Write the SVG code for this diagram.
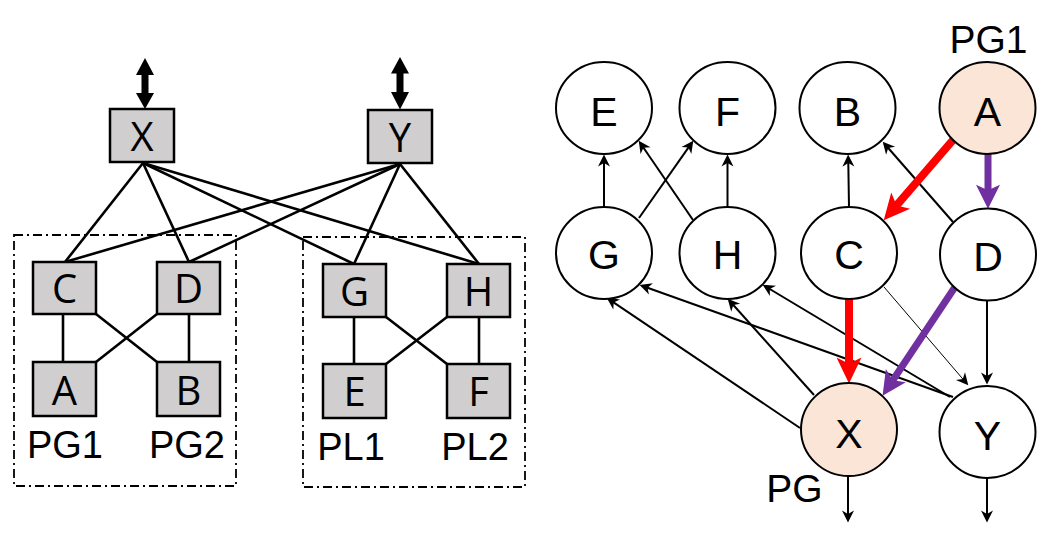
<svg xmlns="http://www.w3.org/2000/svg" width="1058" height="538" viewBox="0 0 1058 538">
<defs>
<style>
.box{fill:#d0cece;stroke:#000;stroke-width:2.5}
.bt{font-family:"Open Sans","Liberation Sans",sans-serif;font-size:40px;text-anchor:middle;fill:#000}
.lbl{font-family:"Liberation Sans",Arial,sans-serif;font-size:38px;text-anchor:middle;fill:#000}
.rl{font-family:"Liberation Sans",Arial,sans-serif;font-size:39px;text-anchor:middle;fill:#000}
.ct{font-family:"Liberation Sans",Arial,sans-serif;font-size:41px;text-anchor:middle;fill:#000}
.grp{fill:none;stroke:#000;stroke-width:1.8;stroke-dasharray:9 4 2 4}
.ln{stroke:#000;stroke-width:2.6;fill:none}
.cir{fill:#fff;stroke:#000;stroke-width:2}
.pk{fill:#fbe5d6}
.ar{stroke:#000;stroke-width:2;fill:none;marker-end:url(#mb)}
.thin{stroke:#000;stroke-width:1;fill:none;marker-end:url(#mb)}
.red{stroke:#ff0000;stroke-width:8;fill:none;marker-end:url(#mr)}
.pur{stroke:#7030a0;stroke-width:7;fill:none;marker-end:url(#mp)}
</style>
<marker id="mb" markerUnits="userSpaceOnUse" markerWidth="12" markerHeight="12" refX="8" refY="5" orient="auto" viewBox="0 0 10 10" overflow="visible">
<path d="M0,0 L10,5 L0,10 L3,5 z" fill="#000"/>
</marker>
<marker id="mr" markerUnits="userSpaceOnUse" markerWidth="26" markerHeight="26" refX="14" refY="12" orient="auto" viewBox="0 0 25 24" overflow="visible">
<path d="M0,0 L25,12 L0,24 L6,12 z" fill="#ff0000"/>
</marker>
<marker id="mp" markerUnits="userSpaceOnUse" markerWidth="24" markerHeight="24" refX="13" refY="11" orient="auto" viewBox="0 0 22 22" overflow="visible">
<path d="M0,0 L22,11 L0,22 L5,11 z" fill="#7030a0"/>
</marker>
</defs>
<rect width="1058" height="538" fill="#fff"/>

<!-- LEFT: physical topology -->
<g id="groups">
<rect class="grp" x="14" y="235" width="222" height="251"/>
<rect class="grp" x="303" y="237" width="222" height="250"/>
</g>
<g id="left-connectors">
<path d="M145,58 L154,75 L148.5,75 L148.5,93 L154,93 L145,109 L136,93 L141.5,93 L141.5,75 L136,75 Z" fill="#000"/>
<path d="M400,57 L409,73.5 L403.5,73.5 L403.5,92 L409,92 L400,109.5 L391,92 L396.5,92 L396.5,73.5 L391,73.5 Z" fill="#000"/>
<line class="ln" x1="143" y1="163" x2="65" y2="262"/>
<line class="ln" x1="143" y1="163" x2="189" y2="262"/>
<line class="ln" x1="143" y1="163" x2="354" y2="264"/>
<line class="ln" x1="143" y1="163" x2="479" y2="264"/>
<line class="ln" x1="400" y1="164" x2="65" y2="262"/>
<line class="ln" x1="400" y1="164" x2="189" y2="262"/>
<line class="ln" x1="400" y1="164" x2="354" y2="264"/>
<line class="ln" x1="400" y1="164" x2="479" y2="264"/>
<line class="ln" x1="63" y1="314" x2="63" y2="362"/>
<line class="ln" x1="189" y1="314" x2="189" y2="362"/>
<line class="ln" x1="96" y1="314" x2="157" y2="362"/>
<line class="ln" x1="157" y1="314" x2="96" y2="362"/>
<line class="ln" x1="354" y1="317" x2="354" y2="364"/>
<line class="ln" x1="479" y1="317" x2="479" y2="364"/>
<line class="ln" x1="386" y1="317" x2="447" y2="364"/>
<line class="ln" x1="447" y1="317" x2="386" y2="364"/>
</g>
<g id="sw-X"><rect class="box" x="110" y="109" width="64" height="53"/><text class="bt" x="142" y="151">X</text></g>
<g id="sw-Y"><rect class="box" x="368" y="110" width="64" height="53"/><text class="bt" x="400" y="152">Y</text></g>
<g id="sw-C"><rect class="box" x="33" y="262" width="63" height="52"/><text class="bt" x="64.5" y="303">C</text></g>
<g id="sw-D"><rect class="box" x="157" y="262" width="63" height="52"/><text class="bt" x="188.5" y="303">D</text></g>
<g id="sw-A"><rect class="box" x="33" y="362" width="63" height="54"/><text class="bt" x="64.5" y="405">A</text></g>
<g id="sw-B"><rect class="box" x="157" y="362" width="63" height="54"/><text class="bt" x="188.5" y="405">B</text></g>
<g id="sw-G"><rect class="box" x="323" y="264" width="63" height="53"/><text class="bt" x="354.5" y="306">G</text></g>
<g id="sw-H"><rect class="box" x="447" y="264" width="63" height="53"/><text class="bt" x="478.5" y="306">H</text></g>
<g id="sw-E"><rect class="box" x="323" y="364" width="63" height="54"/><text class="bt" x="354.5" y="406">E</text></g>
<g id="sw-F"><rect class="box" x="447" y="364" width="63" height="54"/><text class="bt" x="478.5" y="406">F</text></g>
<g id="left-labels">
<text class="lbl" x="65" y="458">PG1</text>
<text class="lbl" x="187" y="458">PG2</text>
<text class="lbl" x="351" y="460">PL1</text>
<text class="lbl" x="475" y="460">PL2</text>
</g>

<!-- RIGHT: dependency graph -->
<g id="right-connectors">
<line class="ar" x1="604" y1="207" x2="604" y2="157"/>
<line class="ar" x1="727.5" y1="207" x2="727.5" y2="157"/>
<line class="ar" x1="639" y1="218" x2="691.9" y2="142.6"/>
<line class="ar" x1="693" y1="220" x2="640.1" y2="142.7"/>
<line class="ar" x1="849" y1="207" x2="848.2" y2="157"/>
<line class="ar" x1="953" y1="222" x2="884.3" y2="143.5"/>
<line class="thin" x1="884" y1="287" x2="966.7" y2="383.5"/>
<line class="ar" x1="987" y1="301" x2="987" y2="382"/>
<line class="ar" x1="800" y1="428" x2="608.7" y2="299.1"/>
<line class="ar" x1="814" y1="395" x2="729.3" y2="300.5"/>
<line class="ar" x1="953" y1="397" x2="641.9" y2="285.7"/>
<line class="ar" x1="950" y1="397" x2="764.7" y2="286"/>
<line class="ar" x1="848" y1="476" x2="848" y2="520"/>
<line class="ar" x1="987" y1="478" x2="987" y2="520"/>
<line class="red" x1="953" y1="140" x2="891.2" y2="211.7"/>
<line class="red" x1="849" y1="298" x2="849" y2="372"/>
<line class="pur" x1="988" y1="154" x2="988" y2="199"/>
<line class="pur" x1="955" y1="287" x2="888" y2="387.5"/>
</g>
<g id="n-E"><ellipse class="cir" cx="604" cy="108" rx="48" ry="46"/><text class="ct" x="604" y="126">E</text></g>
<g id="n-F"><ellipse class="cir" cx="727.5" cy="108" rx="48" ry="46"/><text class="ct" x="727.5" y="126">F</text></g>
<g id="n-B"><ellipse class="cir" cx="847.5" cy="108" rx="48" ry="46"/><text class="ct" x="847.5" y="126">B</text></g>
<g id="n-A"><ellipse class="cir pk" cx="987.5" cy="108" rx="48" ry="46"/><text class="ct" x="987.5" y="126">A</text></g>
<g id="n-G"><ellipse class="cir" cx="604" cy="253" rx="48" ry="46"/><text class="ct" x="604" y="268.5">G</text></g>
<g id="n-H"><ellipse class="cir" cx="727.5" cy="253" rx="48" ry="46"/><text class="ct" x="727.5" y="268.5">H</text></g>
<g id="n-C"><ellipse class="cir" cx="849" cy="253" rx="48" ry="46"/><text class="ct" x="849" y="268.5">C</text></g>
<g id="n-D"><ellipse class="cir" cx="988" cy="254.5" rx="48" ry="46"/><text class="ct" x="988" y="270.5">D</text></g>
<g id="n-X"><ellipse class="cir pk" cx="849" cy="429.5" rx="48" ry="46.5"/><text class="ct" x="849" y="448">X</text></g>
<g id="n-Y"><ellipse class="cir" cx="987.5" cy="432" rx="48" ry="46"/><text class="ct" x="987.5" y="450">Y</text></g>
<g id="right-labels">
<text class="rl" x="988.5" y="53">PG1</text>
<text class="rl" x="794.5" y="502">PG</text>
</g>
</svg>
